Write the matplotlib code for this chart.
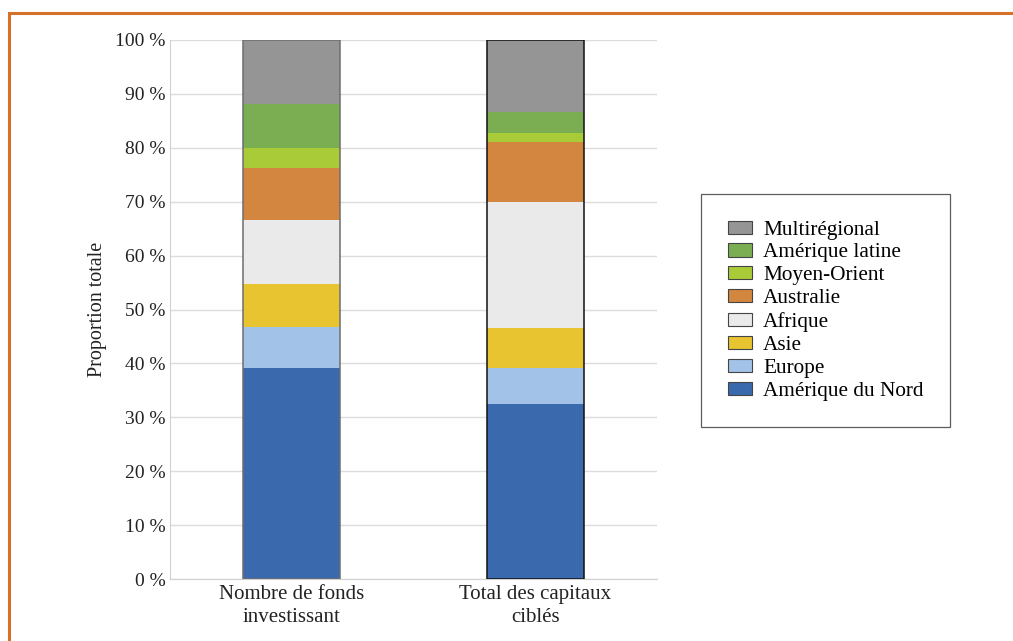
import numpy as np
import matplotlib
matplotlib.use("Agg")
import matplotlib.pyplot as plt
from matplotlib.patches import Rectangle

plt.rcParams["font.family"] = ["Liberation Serif", "DejaVu Serif"]

categories = ["Nombre de fonds\ninvestissant", "Total des capitaux\nciblés"]
regions = ["Amérique du Nord", "Europe", "Asie", "Afrique", "Australie",
           "Moyen-Orient", "Amérique latine", "Multirégional"]
colors = ["#3B69AD", "#A3C2E7", "#E8C431", "#EAEAEA", "#D3863F",
          "#A9CB38", "#7BAE53", "#959595"]
shares = {
    "Amérique du Nord": [39.1, 32.5],
    "Europe": [7.6, 6.6],
    "Asie": [8.0, 7.5],
    "Afrique": [11.9, 23.3],
    "Australie": [9.7, 11.2],
    "Moyen-Orient": [3.7, 1.6],
    "Amérique latine": [8.1, 3.9],
    "Multirégional": [11.9, 13.4],
}
yticks = list(range(0, 101, 10))

fig = plt.figure(figsize=(10.13, 6.41), dpi=100)
fig.patch.set_facecolor("white")
# orange frame (clipped on right and bottom)
fig.add_artist(Rectangle((9 / 1013, -0.05), 1.1, 1 - 13 / 641 + 0.05, transform=fig.transFigure,
                         fill=False, edgecolor="#D4722A", lw=2.2))

ax = fig.add_axes([170 / 1013, 1 - 579 / 641, (657 - 170) / 1013, (579 - 40) / 641])
x = np.arange(len(categories))
width = 0.4
bottom = np.zeros(len(categories))
for reg, col in zip(regions, colors):
    vals = np.array(shares[reg])
    ax.bar(x, vals, width, bottom=bottom, color=col, edgecolor="none", label=reg, zorder=2)
    bottom += vals
edges = ["#6E6E6E", "#111111"]
for i in range(len(categories)):
    ax.bar(x[i], bottom[i], width, fill=False, edgecolor=edges[i], lw=1.1, zorder=3)

ax.set_xlim(-0.5, 1.5)
ax.set_ylim(0, 100)
ax.set_yticks(yticks)
ax.set_yticklabels([f"{v} %" for v in yticks])
ax.set_xticks(x)
ax.set_xticklabels(categories, linespacing=1.3)
ax.tick_params(axis="y", length=0, labelsize=14, colors="#222222", pad=3)
ax.tick_params(axis="x", length=0, labelsize=15, colors="#222222", pad=4)
ax.grid(axis="y", color="#DCDCDC", lw=1, zorder=0)
ax.set_axisbelow(True)
for s in ("top", "right"):
    ax.spines[s].set_visible(False)
for s in ("left", "bottom"):
    ax.spines[s].set_color("#D0D0D0")
ax.set_ylabel("Proportion totale", fontsize=14.5, color="#222222", labelpad=6)

h, l = ax.get_legend_handles_labels()
h = h[:len(regions)][::-1]
l = l[:len(regions)][::-1]
leg = fig.legend(h, l, loc="upper left", bbox_to_anchor=(701 / 1013, 1 - 194 / 641),
                 frameon=True, fancybox=False, edgecolor="#333333", fontsize=15.3,
                 handlelength=1.13, handleheight=0.57, labelspacing=0.18,
                 borderpad=1.25, handletextpad=0.55, borderaxespad=0)
leg.get_frame().set_linewidth(0.9)
for hh in leg.legend_handles:
    hh.set_edgecolor("#444444")
    hh.set_linewidth(0.8)

fig.savefig("out.png", dpi=100, facecolor="white")
